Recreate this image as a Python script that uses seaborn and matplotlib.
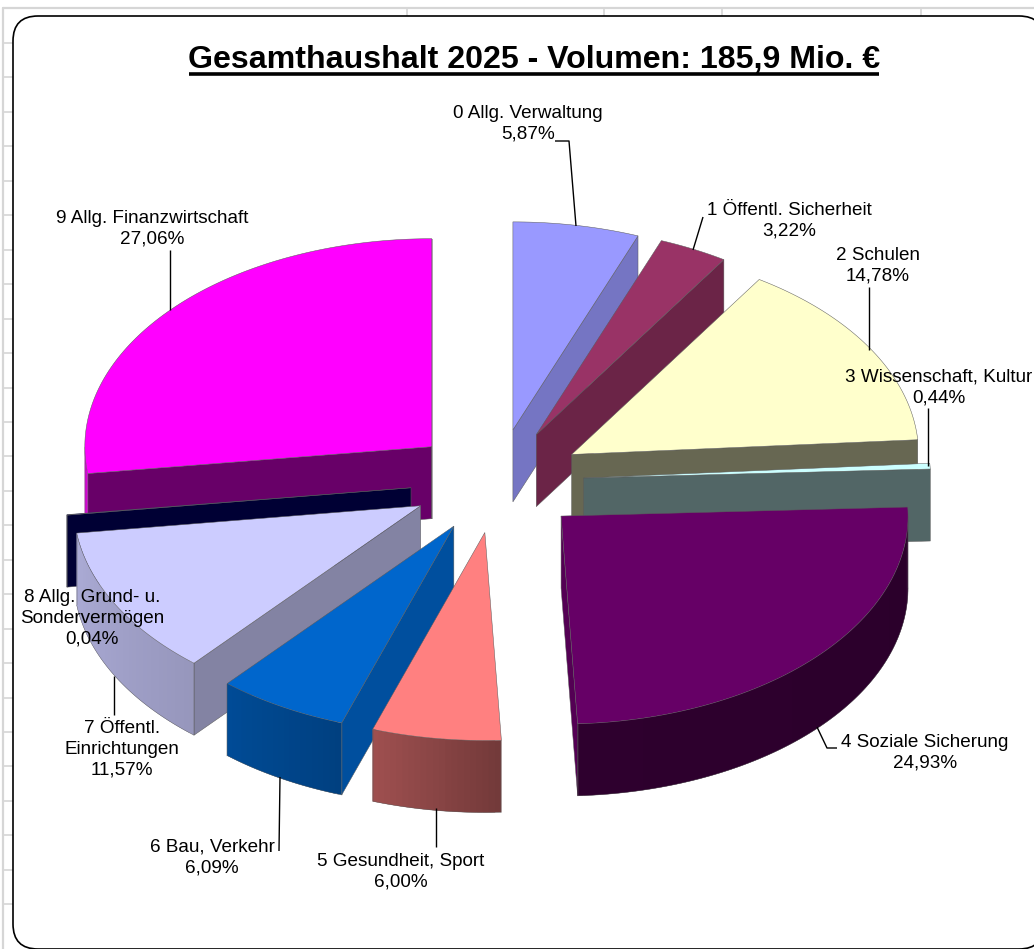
import numpy as np
import matplotlib.pyplot as plt
from matplotlib.patches import FancyBboxPatch
import seaborn as sns

# Data
names = ['0 Allg. Verwaltung', '1 Öffentl. Sicherheit', '2 Schulen',
         '3 Wissenschaft, Kultur', '4 Soziale Sicherung', '5 Gesundheit, Sport',
         '6 Bau, Verkehr', '7 Öffentl.\nEinrichtungen',
         '8 Allg. Grund- u.\nSondervermögen', '9 Allg. Finanzwirtschaft']
shares = [5.87, 3.22, 14.78, 0.44, 24.93, 6.00, 6.09, 11.57, 0.04, 27.06]
colors = ['#9999FF', '#993366', '#FFFFCC', '#CCFFFF', '#660066',
          '#FF8080', '#0066CC', '#CCCCFF', '#000080', '#FF00FF']
title = 'Gesamthaushalt 2025 - Volumen: 185,9 Mio. €'

# Label layout in pixels: centre x, y of the first line
label_pos = [(528, 112), (789, 209), (878, 254), (939, 376), (925, 741),
             (401, 860), (212, 846), (122, 727), (92, 596), (152, 217)]
leaders = [[(555, 141), (569, 141), (576, 226)],
           [(703, 217), (693, 250)],
           [(869, 287), (869, 350)],
           [(928, 408), (928, 466)],
           [(817, 727), (827, 748), (837, 748)],
           [(436, 808), (436, 847)],
           [(280, 777), (279, 851)],
           [(114, 676), (114, 715)],
           [(170, 250), (170, 310)]]

# Pie geometry in pixels
CX, CY = 497, 481
RX, RY = 347, 208
DEPTH = 72
EXPLODE = 0.25

sns.set_theme(style='white')
plt.rcParams['font.family'] = ['Liberation Sans', 'DejaVu Sans']
palette = sns.color_palette(colors)

fig = plt.figure(figsize=(10.34, 9.49), dpi=100)
ax = fig.add_axes([0, 0, 1, 1])
ax.set_xlim(0, 1034)
ax.set_ylim(949, 0)
ax.axis('off')

# Worksheet grid behind the chart
grid = '#D6D6D6'
ax.plot([3, 3], [8, 949], color=grid, lw=1.6, zorder=0)
ax.plot([3, 1034], [8, 8], color=grid, lw=1.6, zorder=0)
for y in np.arange(43, 930, 34.45):
    ax.plot([3, 14], [y, y], color=grid, lw=1.2, zorder=0)
for x in [407, 604, 722, 921]:
    ax.plot([x, x], [8, 16], color=grid, lw=1.2, zorder=0)

# Chart frame, runs off the right and bottom of the picture
ax.add_patch(FancyBboxPatch((13, 16), 1031, 933, boxstyle='round,pad=0,rounding_size=25',
                            fc='white', ec='black', lw=1.2, zorder=1, clip_on=False))


def point(theta, ox, oy, depth=0):
    return ox + RX * np.sin(theta), oy - RY * np.cos(theta) + depth


def shade(color, k):
    return tuple(c * k for c in color)


def wall_shade(deg):
    return np.interp(deg, [90, 177, 199, 221, 262], [0.42, 0.45, 0.63, 0.74, 0.84])


# Slice angles, clockwise from the top
edges = np.radians(np.cumsum([0] + shares) * 3.6)
mids = (edges[:-1] + edges[1:]) / 2
tips_x = CX + EXPLODE * RX * np.sin(mids)
tips_y = CY - EXPLODE * RY * np.cos(mids)

outline = '#5A5A5A'
z = 2
# back slices first
for i in np.argsort(tips_y):
    a0, a1 = edges[i], edges[i + 1]
    ox, oy = tips_x[i], tips_y[i]
    col = palette[i]

    # cut faces that look towards the viewer
    for a, visible in [(a0, np.sin(a0) < 0), (a1, np.sin(a1) > 0)]:
        if visible:
            px, py = point(a, ox, oy)
            k = 0.4 + 0.42 * np.cos(a) ** 2
            ax.fill([ox, px, px, ox], [oy, py, py + DEPTH, oy + DEPTH],
                    fc=shade(col, k), ec=outline, lw=0.35, zorder=z)

    # outer wall, shaded along the arc, each strip reaches under the next one
    lo, hi = max(a0, np.pi / 2), min(a1, 3 * np.pi / 2)
    if hi > lo:
        steps = np.linspace(lo, hi, max(2, int(np.degrees(hi - lo)) + 1))
        for j in range(len(steps) - 1):
            far = steps[min(j + 2, len(steps) - 1)]
            mx, my = point(np.linspace(steps[j], far, 4), ox, oy)
            c = shade(col, wall_shade(np.degrees(steps[j])))
            ax.fill(np.r_[mx, mx[::-1]], np.r_[my, my[::-1] + DEPTH],
                    fc=c, ec='none', lw=0, zorder=z)
        ex, ey = point(steps, ox, oy)
        ax.plot(ex, ey + DEPTH, color=outline, lw=0.3, zorder=z)
        for s in [lo, hi]:
            sx, sy = point(s, ox, oy)
            ax.plot([sx, sx], [sy, sy + DEPTH], color=outline, lw=0.35, zorder=z)

    # top of the slice
    arc = np.linspace(a0, a1, max(2, int(np.degrees(a1 - a0)) + 2))
    ax_, ay_ = point(arc, ox, oy)
    ax.fill(np.r_[ox, ax_], np.r_[oy, ay_], fc=col, ec=outline, lw=0.35, zorder=z)
    z += 1

# Leader lines
for pts in leaders:
    xs, ys = zip(*pts)
    ax.plot(xs, ys, color='black', lw=1.0, zorder=z, solid_capstyle='butt')

# Labels
for name, share, (x, y) in zip(names, shares, label_pos):
    txt = name + '\n' + ('%.2f%%' % share).replace('.', ',')
    ax.text(x, y - 7, txt, ha='center', va='top', fontsize=13.6, color='black',
            linespacing=1.27, zorder=z + 1)

# Title with its underline
ax.text(534, 60, title, ha='center', va='center', fontsize=23.1, fontweight='bold',
        color='black', zorder=z + 1)
ax.plot([189, 879], [73.5, 73.5], color='black', lw=2.6, zorder=z + 1, solid_capstyle='butt')

plt.savefig('out.png', dpi=100)
